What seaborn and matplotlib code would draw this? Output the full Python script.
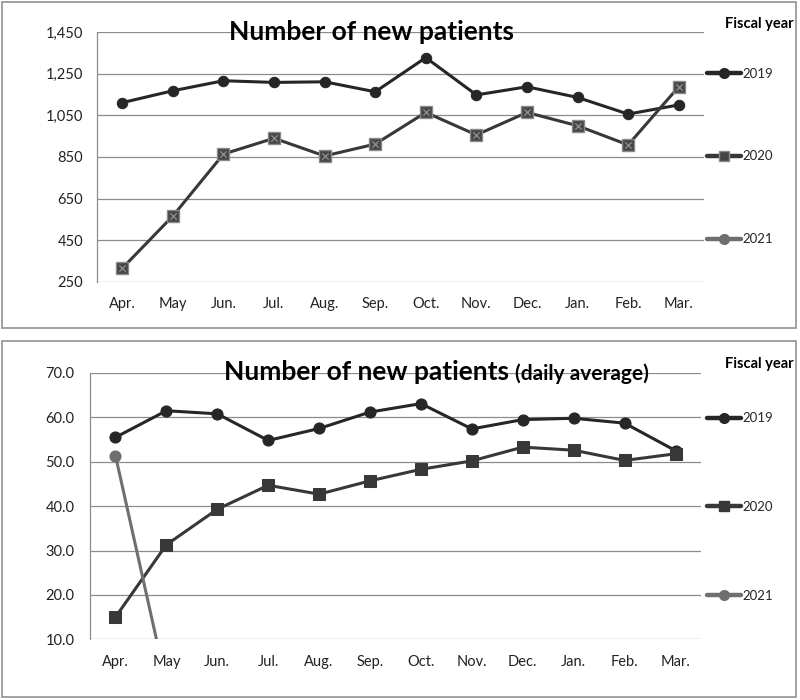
import numpy as np
import pandas as pd
import matplotlib
matplotlib.use('Agg')
import matplotlib.pyplot as plt
import seaborn as sns
from matplotlib.lines import Line2D
from matplotlib.patches import Rectangle
from matplotlib.ticker import FuncFormatter

months = ['Apr.', 'May', 'Jun.', 'Jul.', 'Aug.', 'Sep.', 'Oct.', 'Nov.', 'Dec.', 'Jan.', 'Feb.', 'Mar.']
years = ['2019', '2020', '2021']

# monthly totals
total_2019 = [1111, 1168, 1216, 1208, 1211, 1163, 1327, 1148, 1187, 1136, 1056, 1100]
total_2020 = [316, 567, 864, 940, 855, 912, 1064, 956, 1064, 1000, 908, 1187]

# daily average
daily_2019 = [55.5, 61.5, 60.8, 54.8, 57.5, 61.2, 63.1, 57.4, 59.5, 59.8, 58.7, 52.5]
daily_2020 = [15.0, 31.3, 39.3, 44.7, 42.7, 45.7, 48.3, 50.2, 53.3, 52.6, 50.3, 51.8]
daily_2021 = [51.4, 0.0]

sns.set_style('white')
plt.rcParams['font.family'] = ['Lato', 'DejaVu Sans']

c19 = '#262626'
c20 = '#383838'
c21 = '#6f6f6f'
grid_c = '#8c8c8c'

fig = plt.figure(figsize=(8, 7), dpi=100)
W, H = 800, 700

# panel frames
for y0, y1 in [(2, 328), (341, 697)]:
    fig.patches.append(Rectangle((2 / W, 1 - y1 / H), 794 / W, (y1 - y0) / H,
                                 transform=fig.transFigure, fill=False,
                                 edgecolor='#9a9a9a', linewidth=1.3))

ax1 = fig.add_axes([97 / W, 1 - 282 / H, 607 / W, 250 / H])
ax2 = fig.add_axes([90 / W, 1 - 639.3 / H, 611 / W, 266.3 / H])


def style_axis(ax, ylim, step, fmt, ypad):
    ax.set_xlim(-0.5, 11.5)
    ax.set_ylim(*ylim)
    ax.set_yticks(np.arange(ylim[0], ylim[1] + step / 2, step))
    ax.yaxis.set_major_formatter(FuncFormatter(fmt))
    ax.grid(axis='y', color=grid_c, linewidth=0.9)
    ax.set_axisbelow(True)
    for s in ['top', 'right', 'bottom']:
        ax.spines[s].set_visible(False)
    ax.spines['left'].set_color(grid_c)
    ax.spines['left'].set_linewidth(0.9)
    ax.tick_params(axis='y', length=0, pad=ypad, labelsize=10.5, colors='#222222')
    ax.tick_params(axis='x', length=0, pad=11, labelsize=10.5, colors='#222222')
    ax.set_xlabel('')
    ax.set_ylabel('')


# top chart
top = pd.DataFrame({'month': months * 2,
                    'value': total_2019 + total_2020,
                    'year': ['2019'] * 12 + ['2020'] * 12})
sns.lineplot(data=top[top.year == '2019'], x='month', y='value', ax=ax1, color=c19,
             linewidth=2.2, marker='o', markersize=7.5, markeredgecolor=c19, sort=False)
sns.lineplot(data=top[top.year == '2020'], x='month', y='value', ax=ax1, color=c20,
             linewidth=2.2, marker='s', markersize=8, markerfacecolor='#454545',
             markeredgecolor='#8a8a8a', markeredgewidth=1, sort=False)
sns.scatterplot(data=top[top.year == '2020'], x='month', y='value', ax=ax1, marker='x',
                color='#8a8a8a', s=22, linewidth=1, zorder=5)
style_axis(ax1, (250, 1450), 200, lambda v, p: f'{v:,.0f}', 10)
ax1.text(0.452, 1.0, 'Number of new patients', transform=ax1.transAxes, ha='center',
         va='center', fontsize=19, fontweight='bold', color='black', zorder=6)

# bottom chart
bot = pd.DataFrame({'month': months * 2 + months[:2],
                    'value': daily_2019 + daily_2020 + daily_2021,
                    'year': ['2019'] * 12 + ['2020'] * 12 + ['2021'] * 2})
sns.lineplot(data=bot[bot.year == '2019'], x='month', y='value', ax=ax2, color=c19,
             linewidth=2.2, marker='o', markersize=8, markeredgecolor=c19, sort=False)
sns.lineplot(data=bot[bot.year == '2020'], x='month', y='value', ax=ax2, color=c20,
             linewidth=2.2, marker='s', markersize=8, markeredgecolor=c20, sort=False)
sns.lineplot(data=bot[bot.year == '2021'], x='month', y='value', ax=ax2, color=c21,
             linewidth=2.2, marker='o', markersize=8, markeredgecolor=c21, sort=False)
style_axis(ax2, (10, 70), 10, lambda v, p: f'{v:.1f}', 11)
ax2.text(0.686, 0.972, 'Number of new patients', transform=ax2.transAxes, ha='right',
         va='baseline', fontsize=19, fontweight='bold', color='black', zorder=6)
ax2.text(0.696, 0.972, '(daily average)', transform=ax2.transAxes, ha='left',
         va='baseline', fontsize=15, fontweight='bold', color='black', zorder=6)

# legends
def legend_handles(sq_face, sq_edge):
    return [Line2D([], [], color=c19, linewidth=3.2, marker='o', markersize=7),
            Line2D([], [], color=c20, linewidth=3.2, marker='s', markersize=7,
                   markerfacecolor=sq_face, markeredgecolor=sq_edge),
            Line2D([], [], color=c21, linewidth=3.2, marker='o', markersize=7)]


for ax, face, edge, ycen, spacing, ytitle in [
        (ax1, '#454545', '#8a8a8a', 156.5, 5.38, 24),
        (ax2, c20, c20, 507, 5.82, 364)]:
    fig.legend(legend_handles(face, edge), years, loc='center left',
               bbox_to_anchor=(707 / W, 1 - ycen / H), frameon=False,
               handlelength=2.6, handletextpad=0.1, labelspacing=spacing,
               fontsize=9.5, borderpad=0, borderaxespad=0)
    fig.text(759 / W, 1 - ytitle / H, 'Fiscal year', ha='center', va='center',
             fontsize=10.5, fontweight='bold', color='black')

fig.savefig('out.png', dpi=100, facecolor='white')
